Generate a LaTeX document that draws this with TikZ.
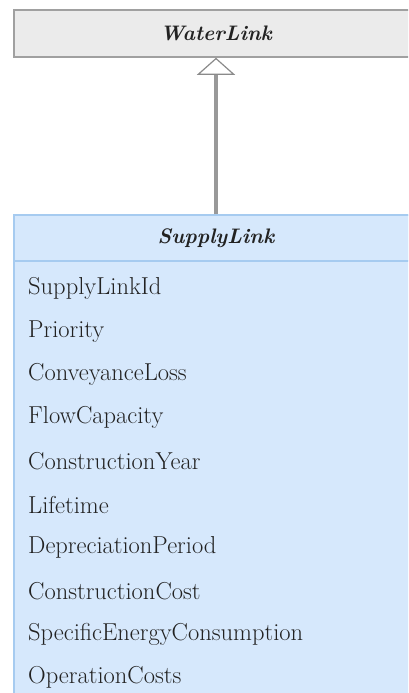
\documentclass[tikz,border=0pt]{standalone}
\usetikzlibrary{arrows.meta}
\definecolor{wlfill}{HTML}{EBEBEB}
\definecolor{wldraw}{HTML}{A0A0A0}
\definecolor{slfill}{HTML}{D6E8FC}
\definecolor{sldraw}{HTML}{A6CBF0}
\definecolor{genline}{HTML}{999999}
\definecolor{txt}{HTML}{222222}
\begin{document}
\begin{tikzpicture}[x=1pt,y=-1pt,
  classbox/.style={draw, line width=1.5pt, minimum width=404pt, inner sep=0pt, text=txt, font=\fontsize{21}{24}\selectfont\bfseries\itshape},
  attr/.style={anchor=west, inner sep=0pt, text=txt, font=\fontsize{24.5}{28}\selectfont},
  gen/.style={genline, line width=3.5pt, -{Triangle[open, width=38pt, length=17pt, line width=1.2pt, fill=white, color=genline!90!black]}}
]
\useasboundingbox (0,0) rectangle (408,693);
\begin{scope}
\clip (0,0) rectangle (408,693);
\node[classbox, fill=wlfill, draw=wldraw, minimum height=47pt] (wl) at (216,33.5) {WaterLink};
\fill[slfill] (14,215) rectangle (418,700);
\draw[sldraw, line width=1.5pt] (14,700) -- (14,215) -- (418,215);
\node[classbox, fill=slfill, draw=sldraw, minimum height=46pt] (slh) at (216,238) {SupplyLink};
\foreach \t [count=\i from 0] in {SupplyLinkId,Priority,ConveyanceLoss,FlowCapacity,ConstructionYear,Lifetime,DepreciationPeriod,ConstructionCost,SpecificEnergyConsumption,OperationCosts}
  \node[attr] (a\i) at (28,{288+43.3*\i}) {\t};
\draw[gen] (slh.north) -- (wl.south);
\end{scope}
\end{tikzpicture}
\end{document}
